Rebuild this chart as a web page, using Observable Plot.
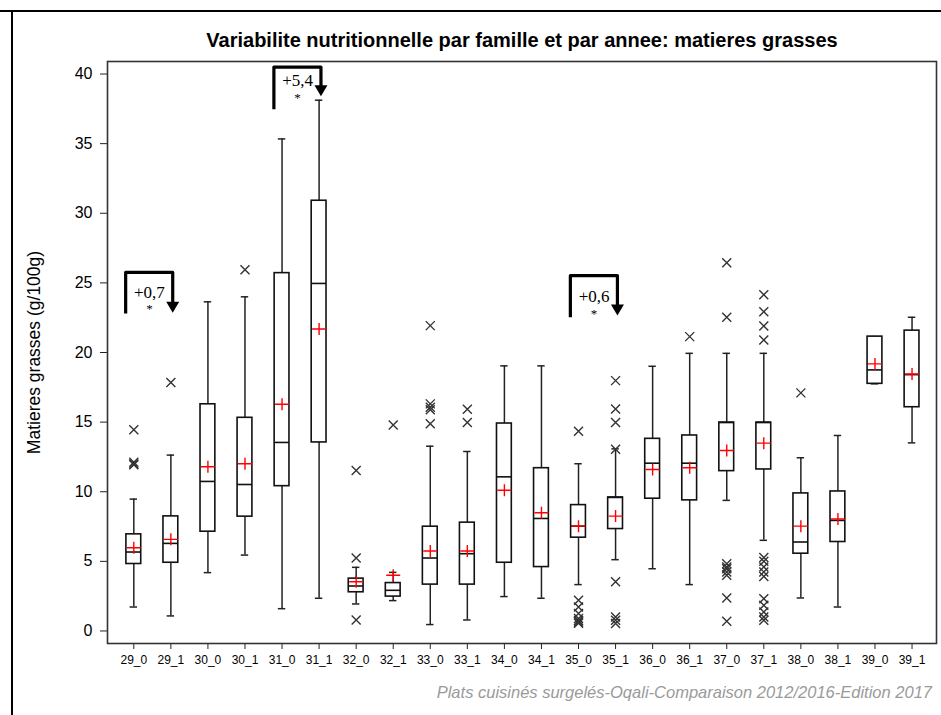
<!DOCTYPE html>
<html>
<head>
<meta charset="utf-8">
<script src="https://cdn.jsdelivr.net/npm/d3@7"></script>
<script src="https://cdn.jsdelivr.net/npm/@observablehq/plot@0.6"></script>
<style>
  html, body { margin: 0; padding: 0; background: #fff; }
  #wrap { position: relative; width: 941px; height: 715px; overflow: hidden; background: #fff; }
  #title { position: relative; height: 50px; }
  #title span { position: absolute; left: 0; width: 1044px; text-align: center; top: 30px; line-height: 20px;
    font-family: "Liberation Sans", Arial, sans-serif; font-weight: bold; font-size: 20px; color: #000; white-space: nowrap; }
  #caption { position: relative; height: 40px; }
  #caption span { position: absolute; right: 9px; top: 9px; line-height: 16px;
    font-family: "Liberation Sans", Arial, sans-serif; font-style: italic; font-size: 16.5px; color: #9a9a9a; white-space: nowrap; }
  .bline { position: absolute; background: #000; }
  svg { display: block; }
</style>
</head>
<body>
<div id="wrap">
  <div id="title"><span>Variabilite nutritionnelle par famille et par annee: matieres grasses</span></div>
  <div id="chart"></div>
  <div id="caption"><span>Plats cuisinés surgelés-Oqali-Comparaison 2012/2016-Edition 2017</span></div>
  <div class="bline" style="left:0;top:9.5px;width:941px;height:2px;"></div>
  <div class="bline" style="left:11px;top:9.5px;width:2px;height:706px;"></div>
</div>
<script>
// ---- data ----
const cats = ["29_0","29_1","30_0","30_1","31_0","31_1","32_0","32_1","33_0","33_1","34_0","34_1",
              "35_0","35_1","36_0","36_1","37_0","37_1","38_0","38_1","39_0","39_1"];
const q1     = [4.81, 4.90, 7.13, 8.21, 10.40, 13.54, 2.78, 2.47, 3.33, 3.33, 4.90, 4.59, 6.70, 7.32, 9.50, 9.38, 11.48, 11.60, 5.55, 6.39, 17.75, 16.07];
const median = [5.67, 6.29, 10.74, 10.52, 13.54, 24.96, 3.23, 2.92, 5.24, 5.55, 11.07, 8.08, 7.53, 9.59, 12.05, 12.05, 14.97, 14.97, 6.39, 7.94, 18.75, 18.41];
const q3     = [6.94, 8.23, 16.28, 15.31, 25.70, 30.90, 3.76, 3.44, 7.49, 7.78, 14.90, 11.69, 9.04, 9.59, 13.80, 14.04, 14.97, 14.97, 9.88, 10.02, 21.14, 21.57];
const whiskerLow  = [1.72, 1.08, 4.19, 5.45, 1.60, 2.35, 1.94, 2.18, 0.46, 0.79, 2.47, 2.35, 3.33, 5.12, 4.47, 3.33, 9.38, 6.51, 2.37, 1.72, 17.75, 13.51];
const whiskerHigh = [9.47, 12.63, 23.64, 24.00, 35.34, 38.12, 4.57, 4.21, 13.27, 12.89, 19.04, 19.04, 12.01, 13.08, 19.01, 19.94, 19.94, 19.94, 12.44, 14.04, 21.14, 22.53];
const mean   = [5.98, 6.58, 11.79, 12.01, 16.28, 21.69, 3.54, 4.00, 5.74, 5.74, 10.11, 8.49, 7.53, 8.25, 11.60, 11.72, 12.96, 13.49, 7.53, 8.04, 19.18, 18.46];
const outliers = [
  [14.45, 12.12, 11.94, 12.0], [17.84], [], [25.94], [], [],
  [11.53, 5.24, 0.79], [14.8], [21.93, 16.31, 16.07, 15.88, 14.88], [15.93, 14.97], [], [],
  [14.35, 2.2, 1.72, 1.25, 0.89, 0.65, 0.55, 0.75], [17.98, 15.95, 14.97, 13.05, 3.54, 1.0, 0.77, 0.53],
  [], [21.14],
  [26.45, 22.53, 4.83, 4.6, 4.47, 4.24, 4.0, 2.37, 0.7],
  [24.15, 22.93, 21.9, 20.9, 5.27, 5.0, 4.6, 4.24, 3.92, 2.32, 1.84, 1.36, 1.0, 0.77],
  [17.1], [], [], []
];
const yTicks = [0, 5, 10, 15, 20, 25, 30, 35, 40];
// annotations (comparison brackets)
const annFrom   = ["29_0", "31_0", "35_0"];
const annLabel  = ["+0,7", "+5,4", "+0,6"];
const annTop    = [25.75, 40.5, 25.52];
const annLeftEnd  = [22.8, 37.47, 22.53];
const annArrowEnd = [23.58, 39.12, 23.37];
const annTextY  = [24.32, 39.5, 24.0];
const annStarY  = [23.15, 38.3, 22.77];

// ---- build tables ----
const idx = d3.range(cats.length);
const boxes = idx.map(i => ({i, q1: q1[i], med: median[i], q3: q3[i], lo: whiskerLow[i], hi: whiskerHigh[i], mean: mean[i]}));
const outs = idx.flatMap(i => outliers[i].map(v => ({i, v})));
const ann = annFrom.map((c, k) => ({k, i: cats.indexOf(c), label: annLabel[k], top: annTop[k], leftEnd: annLeftEnd[k], arrowEnd: annArrowEnd[k], textY: annTextY[k], starY: annStarY[k]}));
const annPath = ann.flatMap(a => [
  {k: a.k, x: a.i - 0.22, y: a.leftEnd},
  {k: a.k, x: a.i - 0.22, y: a.top},
  {k: a.k, x: a.i + 1.05, y: a.top},
  {k: a.k, x: a.i + 1.05, y: a.arrowEnd}
]);

const plusSym = {draw(ctx) { ctx.moveTo(-7, 0); ctx.lineTo(7, 0); ctx.moveTo(0, -6); ctx.lineTo(0, 6); }};
const crossSym = {draw(ctx) { ctx.moveTo(-4.5, -4.5); ctx.lineTo(4.5, 4.5); ctx.moveTo(-4.5, 4.5); ctx.lineTo(4.5, -4.5); }};
const headSym = {draw(ctx) { ctx.moveTo(-6.5, -1); ctx.lineTo(6.5, -1); ctx.lineTo(0, 10); ctx.closePath(); }};

const chart = Plot.plot({
  width: 941,
  height: 625,
  marginLeft: 107,
  marginRight: 5,
  marginTop: 11,
  marginBottom: 32,
  style: {fontFamily: "Liberation Sans, Arial, sans-serif", fontSize: "16px", color: "#000", background: "#fff", overflow: "visible"},
  x: {type: "linear", domain: [-0.71, 21.66]},
  y: {domain: [-0.9, 40.9]},
  marks: [
    Plot.axisY({ticks: yTicks, tickSize: 7, tickPadding: 8, fontSize: 16, stroke: "#222",
      label: "Matieres grasses (g/100g)", labelAnchor: "center", labelOffset: 80, labelArrow: "none"}),
    Plot.axisX({ticks: idx, tickFormat: i => cats[i], tickSize: 6, tickPadding: 6, fontSize: 12,
      fontFamily: "Liberation Sans Narrow, Arial Narrow, Liberation Sans, sans-serif", stroke: "#222", label: null}),
    Plot.frame({stroke: "#333", strokeWidth: 1.6}),
    // whiskers
    Plot.ruleX(boxes, {x: "i", y1: "lo", y2: "q1", stroke: "#222", strokeWidth: 1.5}),
    Plot.ruleX(boxes, {x: "i", y1: "q3", y2: "hi", stroke: "#222", strokeWidth: 1.5}),
    Plot.ruleY(boxes, {y: "lo", x1: d => d.i - 0.1, x2: d => d.i + 0.1, stroke: "#222", strokeWidth: 1.5}),
    Plot.ruleY(boxes, {y: "hi", x1: d => d.i - 0.1, x2: d => d.i + 0.1, stroke: "#222", strokeWidth: 1.5}),
    // boxes
    Plot.rect(boxes, {x1: d => d.i - 0.2, x2: d => d.i + 0.2, y1: "q1", y2: "q3", fill: "#fff", stroke: "#111", strokeWidth: 1.6}),
    Plot.ruleY(boxes, {y: "med", x1: d => d.i - 0.2, x2: d => d.i + 0.2, stroke: "#111", strokeWidth: 1.6}),
    // outliers
    Plot.dot(outs, {x: "i", y: "v", symbol: crossSym, r: 4.5, fill: "none", stroke: "#333", strokeWidth: 1.4}),
    // means
    Plot.dot(boxes, {x: "i", y: "mean", symbol: plusSym, r: 6, fill: "none", stroke: "#ff0000", strokeWidth: 1.4}),
    // annotations
    Plot.line(annPath, {x: "x", y: "y", z: "k", stroke: "#000", strokeWidth: 3.2, strokeLinejoin: "round", strokeLinecap: "butt"}),
    Plot.dot(ann, {x: d => d.i + 1.05, y: "arrowEnd", symbol: headSym, r: 6, fill: "#000", stroke: "none"}),
    Plot.text(ann, {x: d => d.i + 0.42, y: "textY", text: "label", fontFamily: "Liberation Serif, Times New Roman, serif", fontSize: 17, fill: "#000"}),
    Plot.text(ann, {x: d => d.i + 0.42, y: "starY", text: () => "*", fontFamily: "Liberation Serif, Times New Roman, serif", fontSize: 13, fill: "#000"})
  ]
});
document.getElementById("chart").appendChild(chart);
// y-axis label a bit larger, as in the reference
chart.querySelectorAll("text").forEach(t => {
  if (t.textContent === "Matieres grasses (g/100g)") t.setAttribute("font-size", "17.5");
});
</script>
</body>
</html>
